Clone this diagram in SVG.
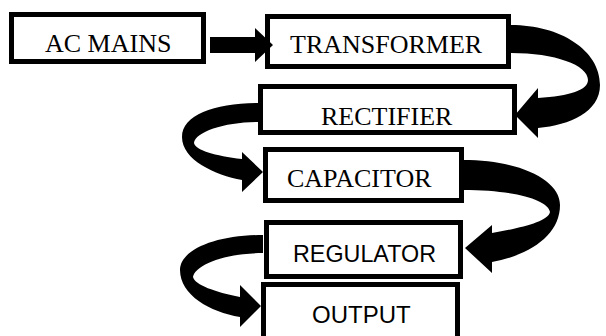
<svg xmlns="http://www.w3.org/2000/svg" width="606" height="336" viewBox="0 0 606 336">
<style>
.box{fill:#fff;stroke:#000;stroke-width:5}
.serif{font-family:"Liberation Serif","Times New Roman",serif;font-size:26px;fill:#000}
.sans{font-family:"Liberation Sans",Arial,sans-serif;font-size:24px;fill:#000}
.arr{fill:#000;stroke:none}
</style>
<rect width="606" height="336" fill="#fff"/>
<g id="ac-mains"><rect class="box" x="11.5" y="14.5" width="192" height="47"/><text class="serif" x="45" y="52">AC MAINS</text></g>
<g id="transformer"><rect class="box" x="267.5" y="16.5" width="241" height="50"/><text class="serif" x="290" y="53">TRANSFORMER</text></g>
<g id="rectifier"><rect class="box" x="260.5" y="86.5" width="254" height="46"/><text class="serif" x="321" y="125">RECTIFIER</text></g>
<g id="capacitor"><rect class="box" x="265.5" y="149.5" width="196" height="51"/><text class="serif" x="287" y="187">CAPACITOR</text></g>
<g id="regulator"><rect class="box" x="266.5" y="222.5" width="194" height="54"/><text class="sans" x="293" y="262" textLength="143" lengthAdjust="spacingAndGlyphs">REGULATOR</text></g>
<g id="output"><rect class="box" x="263.5" y="284.5" width="194" height="60"/><text class="sans" x="312" y="323">OUTPUT</text></g>
<g id="connectors">
<path class="arr" d="M210 37 L255 37 L255 28 L273 45 L255 62 L255 53 L210 53 Z"/>
<path class="arr" d="M511 25 C560 25 600 50 600 85 C600 112 570 125 538 128 L538 138 L515 115 L538 88 L538 98 C570 96 588 90 588 80 C588 65 555 53 511 53 Z"/>
<path class="arr" d="M258 103 C215 103 182 115 182 137 C182 160 215 175 242 180 L242 192 L263 172 L242 152 L242 159 C215 156 195 150 194 143 C195 132 225 122 258 122 Z"/>
<path class="arr" d="M463 160 C520 160 560 180 560 205 C560 235 530 255 492 262 L492 273 L465 248 L492 225 L492 233 C520 228 548 222 550 212 C548 200 515 190 463 190 Z"/>
<path class="arr" d="M263 235 C215 235 180 250 180 270 C180 295 210 312 240 317 L240 327 L261 306 L240 285 L240 297 C215 292 195 285 193 277 C195 265 225 253 263 253 Z"/>
</g>
</svg>
